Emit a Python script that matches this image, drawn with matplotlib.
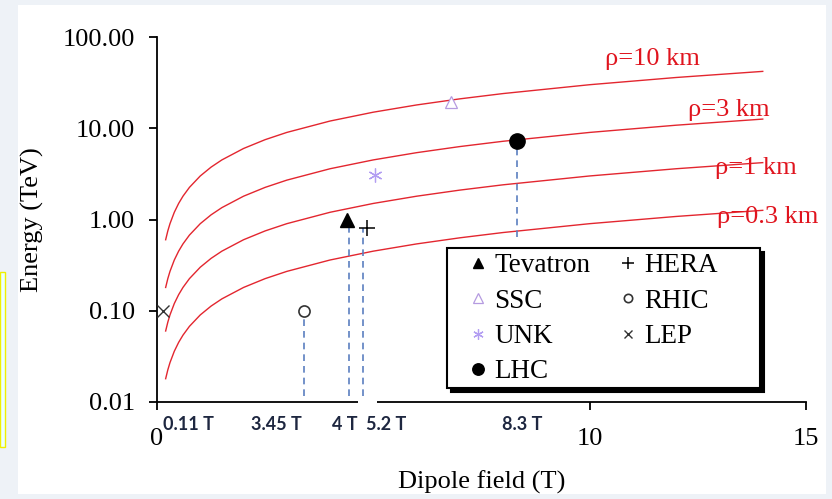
import matplotlib.pyplot as plt
import matplotlib.transforms as mtransforms
from matplotlib.patches import Rectangle

plt.rcParams['font.family'] = ['Liberation Serif', 'DejaVu Serif']

# bending radius curves, E (TeV) read along B (T)
B_field = [0.2, 0.25, 0.3, 0.4, 0.5, 0.6, 0.75, 1, 1.25, 1.5, 2, 2.5, 3, 4, 5, 6, 7, 8, 10, 12, 14]
E_rho10 = [0.6, 0.75, 0.9, 1.2, 1.5, 1.8, 2.25, 3, 3.75, 4.5, 6, 7.5, 9, 12, 15, 18, 21, 24, 30, 36, 42]
E_rho3 = [0.18, 0.225, 0.27, 0.36, 0.45, 0.54, 0.675, 0.9, 1.125, 1.35, 1.8, 2.25, 2.7, 3.6, 4.5, 5.4,
          6.3, 7.2, 9, 10.8, 12.6]
E_rho1 = [0.06, 0.075, 0.09, 0.12, 0.15, 0.18, 0.225, 0.3, 0.375, 0.45, 0.6, 0.75, 0.9, 1.2, 1.5, 1.8,
          2.1, 2.4, 3, 3.6, 4.2]
E_rho03 = [0.018, 0.0225, 0.027, 0.036, 0.045, 0.054, 0.0675, 0.09, 0.1125, 0.135, 0.18, 0.225, 0.27,
           0.36, 0.45, 0.54, 0.63, 0.72, 0.9, 1.08, 1.26]
rho_labels = ['ρ=10 km', 'ρ=3 km', 'ρ=1 km', 'ρ=0.3 km']

machines = ['Tevatron', 'SSC', 'UNK', 'LHC', 'HERA', 'RHIC', 'LEP']
machine_B = [4.4, 6.8, 5.03, 8.31, 4.85, 3.39, 0.14]
machine_E = [1.0, 19.5, 3.05, 7.2, 0.8, 0.1, 0.1]

# dashed drop lines
drop_B = [3.39, 4.44, 4.76, 8.31]
drop_top = [0.1, 1.0, 0.8, 7.2]
drop_bottom = [0.0115, 0.0115, 0.0115, 0.64]

field_labels = ['0.11 T', '3.45 T', '4 T', '5.2 T', '8.3 T']
field_label_x = [0.72, 2.77, 4.34, 5.29, 8.44]

fig = plt.figure(figsize=(8.32, 4.99), dpi=100, facecolor='#eef2f7')
fig.patches.append(Rectangle((18 / 832, 5 / 499), 808 / 832, 489 / 499, transform=fig.transFigure,
                             facecolor='white', edgecolor='none', zorder=-10))
fig.patches.append(Rectangle((0, 52 / 499), 5 / 832, 175 / 499, transform=fig.transFigure,
                             facecolor='#eaffff', edgecolor='#f0f000', lw=1, zorder=-5))

ax = fig.add_axes([157 / 832, 97 / 499, 649 / 832, 365 / 499])
ax.set_facecolor('none')

red = '#e3262f'
for E in [E_rho10, E_rho3, E_rho1, E_rho03]:
    ax.plot(B_field, E, color=red, lw=1.0, zorder=2)

label_pos = [(10.35, 58), (12.27, 15.8), (12.9, 3.66), (12.94, 1.06)]
for lab, (x, y) in zip(rho_labels, label_pos):
    ax.text(x, y, lab, color='#e0141e', fontsize=19, ha='left', va='center', zorder=3)

for x, y0, y1 in zip(drop_B, drop_bottom, drop_top):
    ax.plot([x, x], [y0, y1], color='#5b7fc0', lw=1.2, dashes=(4, 3), zorder=2)

styles = {
    'Tevatron': dict(marker='^', color='black', ms=10),
    'SSC': dict(marker='^', mfc='white', mec='#b59be0', ms=9, mew=0.9),
    'UNK': dict(marker=(6, 2, 0), mec='#b39ef2', ms=10, mew=0.9),
    'LHC': dict(marker='o', color='black', ms=11),
    'HERA': dict(marker='+', color='black', ms=12, mew=1.1),
    'RHIC': dict(marker='o', mfc='white', mec='#333333', ms=8, mew=1.2),
    'LEP': dict(marker='x', color='#333333', ms=8, mew=1.0),
}
for name, b, e in zip(machines, machine_B, machine_E):
    ax.plot([b], [e], ls='none', label=name, zorder=4, **styles[name])

ax.set_yscale('log')
ax.set_xlim(0, 15)
ax.set_ylim(0.01, 100)
ax.set_yticks([0.01, 0.1, 1, 10, 100])
ax.set_yticklabels(['0.01', '0.10', '1.00', '10.00', '100.00'])
ax.minorticks_off()
ax.set_xticks([0, 10, 15])
ax.set_xticklabels(['0', '10', '15'])
ax.tick_params(axis='y', direction='out', length=6, width=1.3, pad=10, labelsize=19)
ax.tick_params(axis='x', direction='out', length=6, width=1.3, pad=13, labelsize=19)
for s in ['top', 'right']:
    ax.spines[s].set_visible(False)
for s in ['left', 'bottom']:
    ax.spines[s].set_linewidth(1.3)

ax.set_xlabel('Dipole field (T)', fontsize=19)
ax.set_ylabel('Energy (TeV)', fontsize=19)
ax.xaxis.set_label_coords(0.5, -0.188)
ax.yaxis.set_label_coords(-0.174, 0.5)

# white patch breaking the axis near 5 T
trans = mtransforms.blended_transform_factory(ax.transData, ax.transAxes)
ax.add_patch(Rectangle((4.65, -0.03), 0.44, 0.04, transform=trans, facecolor='white',
                       edgecolor='none', clip_on=False, zorder=3))

for lab, x in zip(field_labels, field_label_x):
    ax.text(x, -0.063, lab, transform=trans, ha='center', va='center', fontsize=13,
            fontweight='bold', family='Lato', color='#1e2740')

# legend frame with hard shadow
ax.add_patch(Rectangle((451 / 832, 107 / 499), 313 / 832, 140 / 499, transform=fig.transFigure,
                       facecolor='black', edgecolor='black', lw=1.5, clip_on=False, zorder=5))
ax.add_patch(Rectangle((447 / 832, 111 / 499), 313 / 832, 140 / 499, transform=fig.transFigure,
                       facecolor='white', edgecolor='black', lw=1.5, clip_on=False, zorder=5.5))

leg = ax.legend(ncol=2, loc='upper left', bbox_to_anchor=(447 / 832, 251 / 499),
                bbox_transform=fig.transFigure, borderaxespad=0, fontsize=19.5, markerscale=0.75,
                handlelength=1.87, handletextpad=-0.33, columnspacing=0.45, labelspacing=0.38,
                borderpad=0.2, frameon=False)
leg.set_zorder(6)

fig.savefig('out.png', dpi=100, facecolor=fig.get_facecolor())
